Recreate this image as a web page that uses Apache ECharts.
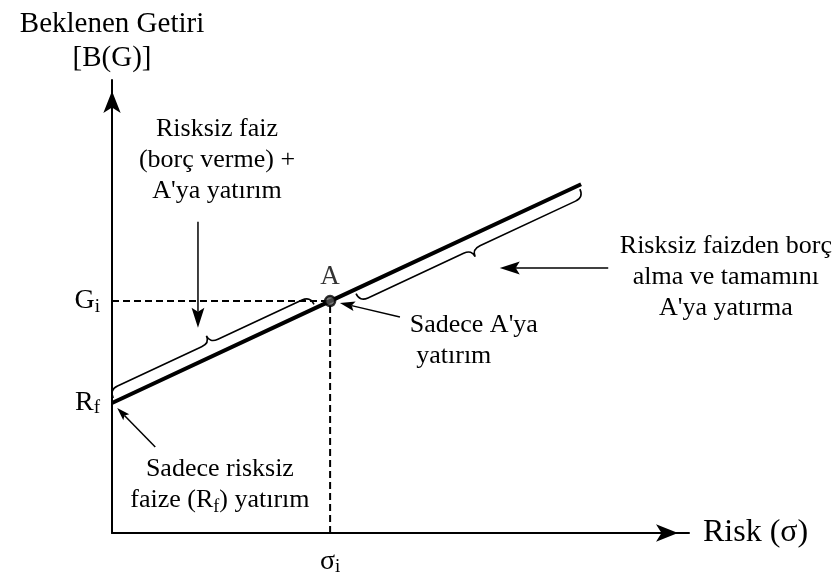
<!DOCTYPE html>
<html>
<head>
<meta charset="utf-8">
<script src="https://cdn.jsdelivr.net/npm/echarts@6/dist/echarts.min.js"></script>
<style>
html,body{margin:0;padding:0;background:#fff}
#chart{width:838px;height:583px}
</style>
</head>
<body>
<div id="chart"></div>
<script>
// values of the diagram (axis units 0..100)
var riskFree = 28.7;              // R_f
var pointA = [37.8, 51.2];        // [sigma_i, G_i]
var lineEnd = [81.3, 77.0];       // end of the line
var braceSpans = [[0.5, 35.3, 1], [42, 80.8, -1]];   // [from x, to x, side]
var arrowLines = [
  [14.9, 68.7, 14.9, 45.3],
  [49.9, 47.7, 39.5, 50.8],
  [86.0, 58.5, 67.2, 58.5],
  [7.5, 19.0, 0.9, 27.6]
];
var noteTexts = [
  'Risksiz faiz\n(borç verme) +\nA\'ya yatırım',
  'Sadece A\'ya\n yatırım',
  'Risksiz faizden borç\nalma ve tamamını\nA\'ya yatırma',
  'Sadece risksiz\nfaize (R{s|f}) yatırım'
];
var noteAnchors = [[18.2, 82.3], [51.6, 42.4], [106.4, 56.5], [18.7, 10.6]];
var noteAligns = ['center', 'left', 'center', 'center'];
var arrowHeads = [20, 15, 20, 13];

var serif = '"Liberation Serif", "Times New Roman", serif';
var subRich = {
  m: {fontSize: 28, fontFamily: serif, color: '#000', lineHeight: 30},
  s: {fontSize: 19, fontFamily: serif, color: '#000', lineHeight: 14, verticalAlign: 'bottom'}
};

function lineY(x) {
  return riskFree + (lineEnd[1] - riskFree) * x / lineEnd[0];
}

// curly brace drawn next to the line
function braceItem(params, api) {
  var x1 = api.value(0), x2 = api.value(1), side = api.value(2);
  var p1 = api.coord([x1, lineY(x1)]);
  var p2 = api.coord([x2, lineY(x2)]);
  var dx = p2[0] - p1[0], dy = p2[1] - p1[1];
  var len = Math.sqrt(dx * dx + dy * dy);
  var ux = dx / len, uy = dy / len;
  var nx = uy * side, ny = -ux * side;
  function pt(s, o) {
    return (p1[0] + ux * s + nx * o).toFixed(2) + ' ' + (p1[1] + uy * s + ny * o).toFixed(2);
  }
  var e = 4, h = 13, t = 8, r = 9, m = len / 2;
  var d = 'M' + pt(0, e) +
    ' Q' + pt(0, h) + ' ' + pt(r, h) +
    ' L' + pt(m - r, h) +
    ' Q' + pt(m, h) + ' ' + pt(m, h + t) +
    ' Q' + pt(m, h) + ' ' + pt(m + r, h) +
    ' L' + pt(len - r, h) +
    ' Q' + pt(len, h) + ' ' + pt(len, e);
  return {
    type: 'path',
    shape: {pathData: d},
    style: {fill: 'none', stroke: '#000', lineWidth: 1.6}
  };
}

function arrowItem(params, api) {
  var a = api.coord([api.value(0), api.value(1)]);
  var b = api.coord([api.value(2), api.value(3)]);
  var dx = b[0] - a[0], dy = b[1] - a[1];
  var len = Math.sqrt(dx * dx + dy * dy);
  var ux = dx / len, uy = dy / len;
  var hl = arrowHeads[params.dataIndex], hw = hl * 0.32, notch = hl * 0.2;
  var bx = b[0] - ux * hl, by = b[1] - uy * hl;
  var nxp = b[0] - ux * (hl - notch), nyp = b[1] - uy * (hl - notch);
  return {
    type: 'group',
    children: [{
      type: 'line',
      shape: {x1: a[0], y1: a[1], x2: nxp, y2: nyp},
      style: {stroke: '#000', lineWidth: 1.5}
    }, {
      type: 'polygon',
      shape: {points: [[b[0], b[1]], [bx - uy * hw, by + ux * hw], [nxp, nyp], [bx + uy * hw, by - ux * hw]]},
      style: {fill: '#000'}
    }]
  };
}

function noteItem(params, api) {
  var p = api.coord([api.value(0), api.value(1)]);
  return {
    type: 'text',
    x: p[0],
    y: p[1],
    style: {
      text: noteTexts[params.dataIndex],
      fontFamily: serif,
      fontSize: 26,
      fill: '#000',
      align: noteAligns[params.dataIndex],
      verticalAlign: 'middle',
      lineHeight: 31,
      rich: {s: {fontSize: 18, fontFamily: serif, fill: '#000', lineHeight: 14, verticalAlign: 'bottom'}}
    }
  };
}

var chart = echarts.init(document.getElementById('chart'));
var option = {
  backgroundColor: '#fff',
  animation: false,
  grid: {left: 112, right: 149, top: 80, bottom: 50, outerBoundsMode: 'none'},
  xAxis: {
    type: 'value', min: 0, max: 100,
    splitLine: {show: false},
    axisTick: {show: false},
    axisLine: {lineStyle: {color: '#000', width: 2}, symbol: ['none', 'arrow'], symbolSize: [13, 22], symbolOffset: [0, -11]},
    axisLabel: {
      customValues: [pointA[0]],
      formatter: function () { return '{m|σ}{s|i}'; },
      rich: subRich,
      margin: 14
    },
    name: 'Risk (σ)',
    nameLocation: 'end',
    nameGap: 14,
    nameTextStyle: {fontFamily: serif, fontSize: 32, color: '#000'}
  },
  yAxis: {
    type: 'value', min: 0, max: 100,
    splitLine: {show: false},
    axisTick: {show: false},
    axisLine: {lineStyle: {color: '#000', width: 2}, symbol: ['none', 'arrow'], symbolSize: [13, 22], symbolOffset: [0, -11]},
    axisLabel: {
      customValues: [riskFree, pointA[1]],
      formatter: function (v) { return v === riskFree ? '{m|R}{s|f}' : '{m|G}{s|i}'; },
      rich: subRich,
      margin: 12
    },
    name: 'Beklenen Getiri\n[B(G)]',
    nameLocation: 'end',
    nameGap: 5,
    nameTextStyle: {fontFamily: serif, fontSize: 29, color: '#000', lineHeight: 34, align: 'center'}
  },
  series: [{
    type: 'line',
    data: [[0, pointA[1]], pointA],
    symbol: 'none',
    lineStyle: {color: '#000', width: 2, type: [7, 4]},
    z: 2
  }, {
    type: 'line',
    data: [[pointA[0], 0], pointA],
    symbol: 'none',
    lineStyle: {color: '#000', width: 2, type: [7, 4]},
    z: 2
  }, {
    type: 'line',
    data: [[0, riskFree], pointA, lineEnd],
    symbol: 'none',
    lineStyle: {color: '#000', width: 4},
    z: 3
  }, {
    type: 'scatter',
    data: [pointA],
    symbol: 'circle',
    symbolSize: 10,
    itemStyle: {color: '#555', borderColor: '#000', borderWidth: 2.5},
    label: {show: true, formatter: 'A', position: 'top', distance: 4, fontFamily: serif, fontSize: 27, color: '#000'},
    z: 5
  }, {
    type: 'custom',
    renderItem: braceItem,
    data: braceSpans,
    z: 4
  }, {
    type: 'custom',
    renderItem: arrowItem,
    data: arrowLines,
    z: 4
  }, {
    type: 'custom',
    renderItem: noteItem,
    data: noteAnchors,
    z: 4
  }]
};
chart.setOption(option);
</script>
</body>
</html>
